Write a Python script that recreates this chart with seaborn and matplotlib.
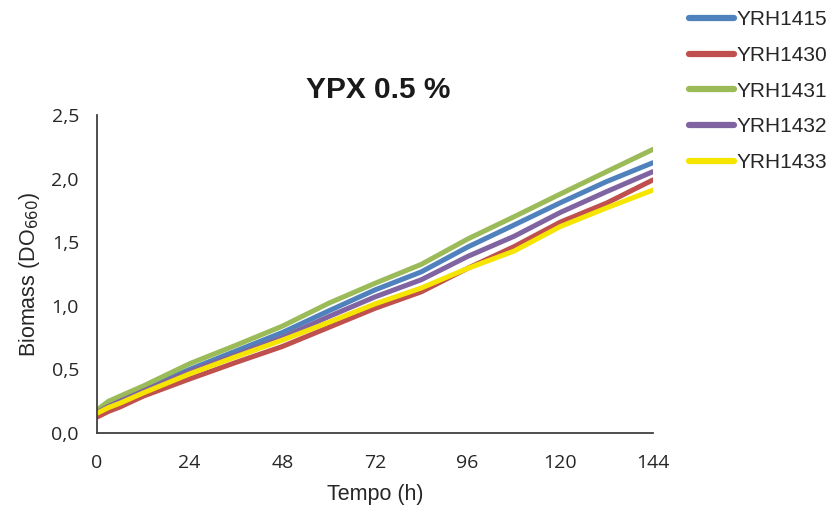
import matplotlib
matplotlib.use("Agg")
import matplotlib.pyplot as plt
import seaborn as sns
import pandas as pd
from matplotlib.ticker import FuncFormatter, FixedLocator

# ---- data ----
time_h = [0, 3, 6, 12, 24, 36, 48, 60, 72, 84, 96, 108, 120, 132, 144]
yrh1415 = [0.165, 0.22, 0.26, 0.345, 0.50, 0.645, 0.79, 0.96, 1.125, 1.267, 1.462, 1.635, 1.81, 1.977, 2.125]
yrh1430 = [0.125, 0.17, 0.205, 0.29, 0.425, 0.555, 0.68, 0.83, 0.98, 1.11, 1.295, 1.465, 1.658, 1.808, 1.99]
yrh1431 = [0.18, 0.25, 0.29, 0.37, 0.545, 0.69, 0.84, 1.02, 1.177, 1.326, 1.525, 1.70, 1.879, 2.055, 2.23]
yrh1432 = [0.16, 0.21, 0.25, 0.33, 0.485, 0.615, 0.75, 0.915, 1.07, 1.205, 1.388, 1.546, 1.734, 1.898, 2.055]
yrh1433 = [0.155, 0.20, 0.235, 0.315, 0.465, 0.60, 0.73, 0.87, 1.015, 1.14, 1.294, 1.43, 1.623, 1.77, 1.91]

strains = ["YRH1415", "YRH1430", "YRH1431", "YRH1432", "YRH1433"]
series = [yrh1415, yrh1430, yrh1431, yrh1432, yrh1433]
colors = ["#4F81BD", "#C0504D", "#9BBB59", "#8064A2", "#F5E500"]

x_ticks = [0, 24, 48, 72, 96, 120, 144]
y_ticks = [0.0, 0.5, 1.0, 1.5, 2.0, 2.5]

rows = []
for name, vals in zip(strains, series):
    for t, v in zip(time_h, vals):
        rows.append({"Tempo": t, "Biomass": v, "Strain": name})
df = pd.DataFrame(rows)

sns.set_style("white")
plt.rcParams["font.family"] = ["Liberation Sans", "DejaVu Sans"]

fig = plt.figure(figsize=(8.34, 5.12), dpi=100)
ax = fig.add_axes([97 / 834, 1 - 433 / 512, (653 - 97) / 834, (433 - 115) / 512])

sns.lineplot(data=df, x="Tempo", y="Biomass", hue="Strain", hue_order=strains,
             palette=colors, linewidth=3.6, ax=ax, legend=False,
             solid_capstyle="round", solid_joinstyle="round")

ax.set_xlim(0, 144)
ax.set_ylim(0, 2.5)
ax.xaxis.set_major_locator(FixedLocator(x_ticks))
ax.yaxis.set_major_locator(FixedLocator(y_ticks))
ax.yaxis.set_major_formatter(FuncFormatter(lambda v, p: f"{v:.1f}".replace(".", ",")))

for s in ["top", "right"]:
    ax.spines[s].set_visible(False)
for s in ["left", "bottom"]:
    ax.spines[s].set_color("#404040")
    ax.spines[s].set_linewidth(1.3)

ax.tick_params(axis="both", direction="out", length=5, width=1.3, color="#404040",
               labelsize=14, labelcolor="#262626")
ax.tick_params(axis="x", pad=10)
ax.tick_params(axis="y", pad=8)
for lab in ax.get_xticklabels() + ax.get_yticklabels():
    lab.set_fontfamily(["Open Sans", "DejaVu Sans"])

ax.set_xlabel("Tempo (h)", fontsize=15.5, color="#262626", labelpad=9)
ax.set_ylabel("Biomass (DO$_{660}$)", fontsize=15.5, color="#262626", labelpad=7)

fig.text(378 / 834, 1 - 90 / 512, "YPX 0.5 %", ha="center", va="center",
         fontsize=21.5, fontweight="bold", color="#1a1a1a")

handles = [plt.Line2D([0], [0], color=c, lw=4.5, solid_capstyle="round") for c in colors]
leg = fig.legend(handles, strains, loc="upper left",
                 bbox_to_anchor=(681 / 834, 1 - 2 / 512), frameon=False,
                 fontsize=15, handlelength=2.15, handletextpad=0.12,
                 labelspacing=0.80, borderaxespad=0)
for t in leg.get_texts():
    t.set_color("#262626")

fig.savefig("out.png", dpi=100)
